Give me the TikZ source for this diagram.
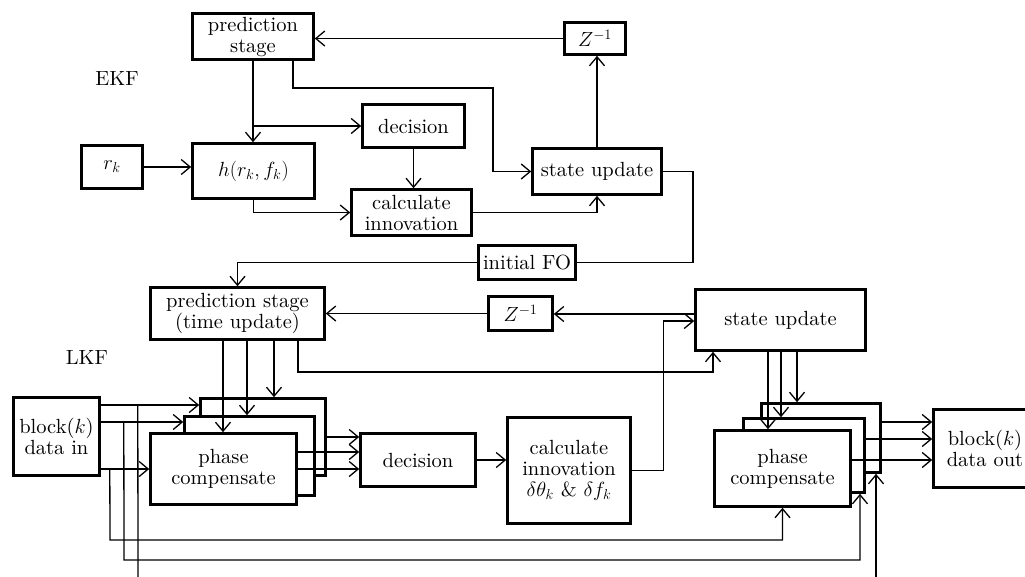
\RequirePackage{fix-cm}
\documentclass[tikz,border=0pt]{standalone}
\usepackage{fontspec}
\setmainfont{lmroman10-regular.otf}[BoldFont=lmroman10-bold.otf,ItalicFont=lmroman10-italic.otf]
\usetikzlibrary{arrows.meta}
\begin{document}
\begin{tikzpicture}[x=1pt,y=-1pt,
  box/.style={draw,line width=2.6pt,fill=white,align=center,inner sep=1pt,font=\fontsize{20.5}{21}\selectfont},
  conn/.style={line width=1.3pt},
  arr/.style={conn,-{Straight Barb[length=9pt,width=15pt,line width=1.3pt]}},
  lbl/.style={font=\fontsize{20.5}{21}\selectfont}]
\useasboundingbox (0,0) rectangle (1025,576);
\clip (0,0) rectangle (1025,576);

% ---------------- EKF ----------------
\node[lbl] (ekf) at (117,78) {EKF};
\node[box,minimum width=121pt,minimum height=46pt] (ps1) at (253,36.5) {prediction\\stage};
\node[box,minimum width=61pt,minimum height=32pt] (z1) at (595,38.5) {$Z^{-1}$};
\node[box,minimum width=102pt,minimum height=43pt] (dec1) at (413.5,126) {decision};
\node[box,minimum width=120pt,minimum height=46pt] (ci1) at (411.5,212.5) {calculate\\innovation};
\node[box,minimum width=129pt,minimum height=46pt] (su1) at (597,171.5) {state update};
\node[box,minimum width=122pt,minimum height=55pt] (h) at (253.5,171) {$h(r_k,f_k)$};
\node[box,minimum width=61pt,minimum height=43pt] (rk) at (112,167) {$r_k$};
\node[box,minimum width=97pt,minimum height=34pt] (fo) at (527,262.5) {initial FO};

% ---------------- LKF ----------------
\node[lbl] (lkf) at (87,357) {LKF};
\node[box,minimum width=174pt,minimum height=52pt] (ps2) at (237.5,313.5) {prediction stage\\(time update)};
\node[box,minimum width=64pt,minimum height=34pt] (z2) at (520.5,313.5) {$Z^{-1}$};
\node[box,minimum width=170pt,minimum height=61pt] (su2) at (780.5,320) {state update};
\node[box,minimum width=86pt,minimum height=78pt] (bin) at (56.5,436.5) {block($k$)\\data in};
\node[box,minimum width=125pt,minimum height=77pt] (b1) at (263,437) {};
\node[box,minimum width=130pt,minimum height=79pt] (m1) at (249.5,456) {};
\node[box,minimum width=146pt,minimum height=71pt] (f1) at (223.5,469) {phase\\compensate};
\node[box,minimum width=115pt,minimum height=53pt] (d2) at (418,460) {decision};
\node[box,minimum width=123pt,minimum height=106pt] (ci2) at (569,470.5) {calculate\\innovation\\$\delta\theta_k$ \& $\delta f_k$};
\node[box,minimum width=119pt,minimum height=69pt] (b2) at (821,438) {};
\node[box,minimum width=121pt,minimum height=74pt] (m2) at (804,455.5) {};
\node[box,minimum width=136pt,minimum height=76pt] (f2) at (782.5,468.5) {phase\\compensate};
\node[box,minimum width=103pt,minimum height=78pt] (bout) at (985,448.5) {block($k$)\\data out};

% ---------------- EKF connectors ----------------
\draw[arr] (z1.west) -- (z1.west -| ps1.east);
\draw[arr] (rk.east) -- (rk.east -| h.west);
\draw[arr] (ps1.south) -- (ps1.south |- h.north);
\draw[arr] (ps1.south |- dec1.west) -- (dec1.west);
\coordinate (p1a) at ([xshift=40pt]ps1.south);
\draw[arr] (p1a) |- (493,88) |- (su1.west);
\draw[arr] (h.south) |- (ci1.west);
\draw[arr] (dec1.south) -- (dec1.south |- ci1.north);
\draw[arr] (ci1.east) -| (su1.south);
\draw[arr] (su1.north) -- (su1.north |- z1.south);
\draw[conn] (su1.east) -| (693,262.5) -- (fo.east);
\draw[arr] (fo.west) -| (ps2.north);

% ---------------- LKF connectors ----------------
\draw[arr] (z2.west) -- (z2.west -| ps2.east);
\coordinate (s2a) at ([yshift=6pt]su2.west);
\draw[arr] (s2a) -- (s2a -| z2.east);
\coordinate (s2b) at ([xshift=-31pt,yshift=-1pt]su2.west);
\coordinate (s2c) at ([yshift=-1pt]su2.west);
\draw[arr] (ci2.east) -| (s2b) -- (s2c);
\coordinate (p2r) at ([xshift=60.5pt]ps2.south);
\coordinate (s2s) at ([xshift=-67.5pt]su2.south);
\draw[arr] (p2r) |- (713,372) -- (s2s);

\coordinate (p2f) at ([xshift=-14.5pt]ps2.south);
\coordinate (p2m) at ([xshift=9.5pt]ps2.south);
\coordinate (p2b) at ([xshift=36.5pt]ps2.south);
\draw[arr] (p2f) -- (p2f |- f1.north);
\draw[arr] (p2m) -- (p2m |- m1.north);
\draw[arr] (p2b) -- (p2b |- b1.north);

\coordinate (ib) at ([yshift=31.5pt]bin.east);
\coordinate (im) at ([yshift=14.5pt]bin.east);
\coordinate (if) at ([yshift=-32.5pt]bin.east);
\draw[arr] (ib) -- (ib -| b1.west);
\draw[arr] (im) -- (im -| m1.west);
\draw[arr] (if) -- (if -| f1.west);

\coordinate (vf) at ([xshift=9pt]if);
\coordinate (vm) at ([xshift=23pt]im);
\coordinate (vb) at ([xshift=37pt]ib);
\coordinate (m2s) at ([xshift=56pt]m2.south);
\coordinate (b2s) at ([xshift=55pt]b2.south);
\draw[arr] (vf) -- (110,540) -| (f2.south);
\draw[arr] (vm) -- (124,560) -| (m2s);
\draw[conn] (vb) -- (138,585);
\draw[arr] (876,585) -- (b2s);

\coordinate (f1u) at ([yshift=17pt]f1.east);
\draw[arr] (b1.east) -- (b1.east -| d2.west);
\draw[arr] (f1u) -- (f1u -| d2.west);
\draw[arr] (f1.east) -- (f1.east -| d2.west);
\draw[arr] (d2.east) -- (d2.east -| ci2.west);

\coordinate (s2f) at ([xshift=-12.5pt]su2.south);
\coordinate (s2m) at ([xshift=0.5pt]su2.south);
\coordinate (s2k) at ([xshift=16.5pt]su2.south);
\draw[arr] (s2f) -- (s2f |- f2.north);
\draw[arr] (s2m) -- (s2m |- m2.north);
\draw[arr] (s2k) -- (s2k |- b2.north);

\coordinate (ob) at ([yshift=16pt]b2.east);
\coordinate (om) at ([yshift=16.5pt]m2.east);
\coordinate (of) at ([yshift=8.5pt]f2.east);
\draw[arr] (ob) -- (ob -| bout.west);
\draw[arr] (om) -- (om -| bout.west);
\draw[arr] (of) -- (of -| bout.west);
\end{tikzpicture}
\end{document}
